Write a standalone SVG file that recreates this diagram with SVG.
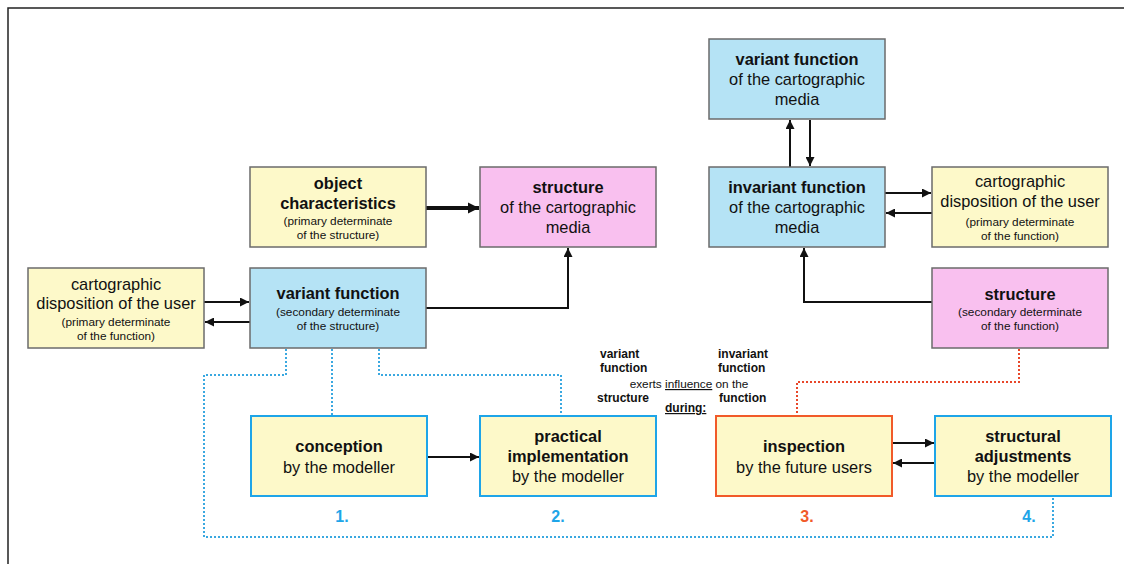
<svg xmlns="http://www.w3.org/2000/svg" width="1124" height="564" viewBox="0 0 1124 564">
<style>
text{font-family:"Liberation Sans",Arial,sans-serif;fill:#111;text-anchor:middle}
.t{font-size:16.4px;font-weight:bold}
.n{font-size:16.4px}
.s{font-size:11.8px}
.m{font-size:12px;font-weight:bold;text-anchor:start}
.mr{font-size:11.8px;text-anchor:middle}
.num{font-size:16px;font-weight:bold}
.y{fill:#fdf9c9}
.b{fill:#b5e3f5}
.p{fill:#f9c0ef}
.g{stroke:#6b6b6b;stroke-width:1.5}
.bl{stroke:#1ea5e8;stroke-width:2}
.or{stroke:#f15a29;stroke-width:2}
.c{fill:none;stroke:#111;stroke-width:2}
.thick{stroke-width:4}
.d{fill:none;stroke:#3aa8e0;stroke-width:2;stroke-dasharray:2 2}
.dr{fill:none;stroke:#e8472a;stroke-width:2;stroke-dasharray:2 2}
</style>
<defs>
<marker id="a" viewBox="0 0 10 10" refX="10" refY="5" markerWidth="4.5" markerHeight="4.5" orient="auto" markerUnits="strokeWidth">
<path d="M0,0 L10,5 L0,10 z" fill="#111"/>
</marker>
<marker id="a2" viewBox="0 0 10 10" refX="10" refY="5" markerWidth="2.8" markerHeight="2.8" orient="auto" markerUnits="strokeWidth">
<path d="M0,0 L10,5 L0,10 z" fill="#111"/>
</marker>
</defs>
<rect width="1124" height="564" fill="#fff"/>
<path d="M8,564 V8 H1124" fill="none" stroke="#222" stroke-width="1.5"/>

<g id="connectors">
<line class="c thick" x1="426" y1="208" x2="479" y2="208" marker-end="url(#a2)"/>
<line class="c" x1="204" y1="302" x2="249" y2="302" marker-end="url(#a)"/>
<line class="c" x1="250" y1="322" x2="205" y2="322" marker-end="url(#a)"/>
<path class="c" d="M426,308 H568 V248" marker-end="url(#a)"/>
<line class="c" x1="790" y1="167" x2="790" y2="120" marker-end="url(#a)"/>
<line class="c" x1="810" y1="120" x2="810" y2="166" marker-end="url(#a)"/>
<line class="c" x1="885" y1="193" x2="931" y2="193" marker-end="url(#a)"/>
<line class="c" x1="932" y1="213" x2="886" y2="213" marker-end="url(#a)"/>
<path class="c" d="M932,302 H804 V248" marker-end="url(#a)"/>
<line class="c" x1="427" y1="457" x2="479" y2="457" marker-end="url(#a)"/>
<line class="c" x1="892" y1="443" x2="934" y2="443" marker-end="url(#a)"/>
<line class="c" x1="935" y1="463" x2="893" y2="463" marker-end="url(#a)"/>
<path class="d" d="M286,349 V375 H204 V537 H1053 V497"/>
<path class="d" d="M332,349 V415"/>
<path class="d" d="M379,349 V375 H561 V415"/>
<path class="dr" d="M1019,349 V382 H797 V415"/>
</g>

<g id="object-characteristics">
<rect class="y g" x="250" y="167" width="176" height="80"/>
<text class="t" x="338" y="189">object</text>
<text class="t" x="338" y="209">characteristics</text>
<text class="s" x="338" y="225">(primary determinate</text>
<text class="s" x="338" y="239">of the structure)</text>
</g>

<g id="structure-media">
<rect class="p g" x="480" y="167" width="176" height="80"/>
<text class="t" x="568" y="193">structure</text>
<text class="n" x="568" y="213">of the cartographic</text>
<text class="n" x="568" y="233">media</text>
</g>

<g id="disposition-left">
<rect class="y g" x="28" y="268" width="176" height="80"/>
<text class="n" x="116" y="290">cartographic</text>
<text class="n" x="116" y="309">disposition of the user</text>
<text class="s" x="116" y="326">(primary determinate</text>
<text class="s" x="116" y="340">of the function)</text>
</g>

<g id="variant-function-left">
<rect class="b g" x="250" y="268" width="176" height="80"/>
<text class="t" x="338" y="299">variant function</text>
<text class="s" x="338" y="316">(secondary determinate</text>
<text class="s" x="338" y="330">of the structure)</text>
</g>

<g id="variant-function-top">
<rect class="b g" x="709" y="39" width="176" height="80"/>
<text class="t" x="797" y="65">variant function</text>
<text class="n" x="797" y="85">of the cartographic</text>
<text class="n" x="797" y="105">media</text>
</g>

<g id="invariant-function">
<rect class="b g" x="709" y="167" width="176" height="80"/>
<text class="t" x="797" y="193">invariant function</text>
<text class="n" x="797" y="213">of the cartographic</text>
<text class="n" x="797" y="233">media</text>
</g>

<g id="disposition-right">
<rect class="y g" x="932" y="167" width="176" height="80"/>
<text class="n" x="1020" y="187">cartographic</text>
<text class="n" x="1020" y="207">disposition of the user</text>
<text class="s" x="1020" y="226">(primary determinate</text>
<text class="s" x="1020" y="240">of the function)</text>
</g>

<g id="structure-right">
<rect class="p g" x="932" y="268" width="176" height="80"/>
<text class="t" x="1020" y="300">structure</text>
<text class="s" x="1020" y="316">(secondary determinate</text>
<text class="s" x="1020" y="330">of the function)</text>
</g>

<g id="conception">
<rect class="y bl" x="251" y="416" width="176" height="80"/>
<text class="t" x="339" y="452">conception</text>
<text class="n" x="339" y="473">by the modeller</text>
<text class="num" x="342" y="522" style="fill:#1ea5e8">1.</text>
</g>

<g id="practical-implementation">
<rect class="y bl" x="480" y="416" width="176" height="80"/>
<text class="t" x="568" y="442">practical</text>
<text class="t" x="568" y="462">implementation</text>
<text class="n" x="568" y="482">by the modeller</text>
<text class="num" x="558" y="522" style="fill:#1ea5e8">2.</text>
</g>

<g id="inspection">
<rect class="y or" x="716" y="416" width="176" height="80"/>
<text class="t" x="804" y="452">inspection</text>
<text class="n" x="804" y="473">by the future users</text>
<text class="num" x="807" y="522" style="fill:#f15a29">3.</text>
</g>

<g id="structural-adjustments">
<rect class="y bl" x="935" y="416" width="176" height="80"/>
<text class="t" x="1023" y="442">structural</text>
<text class="t" x="1023" y="462">adjustments</text>
<text class="n" x="1023" y="482">by the modeller</text>
<text class="num" x="1029" y="522" style="fill:#1ea5e8">4.</text>
</g>

<g id="influence-note">
<text class="m" x="600" y="358">variant</text>
<text class="m" x="600" y="372">function</text>
<text class="m" x="718" y="358">invariant</text>
<text class="m" x="718" y="372">function</text>
<text class="mr" x="689" y="388">exerts <tspan style="text-decoration:underline">influence</tspan> on the</text>
<text class="m" x="597" y="402">structure</text>
<text class="m" x="719" y="402">function</text>
<text class="m" x="665" y="412" style="text-decoration:underline">during:</text>
</g>
</svg>
